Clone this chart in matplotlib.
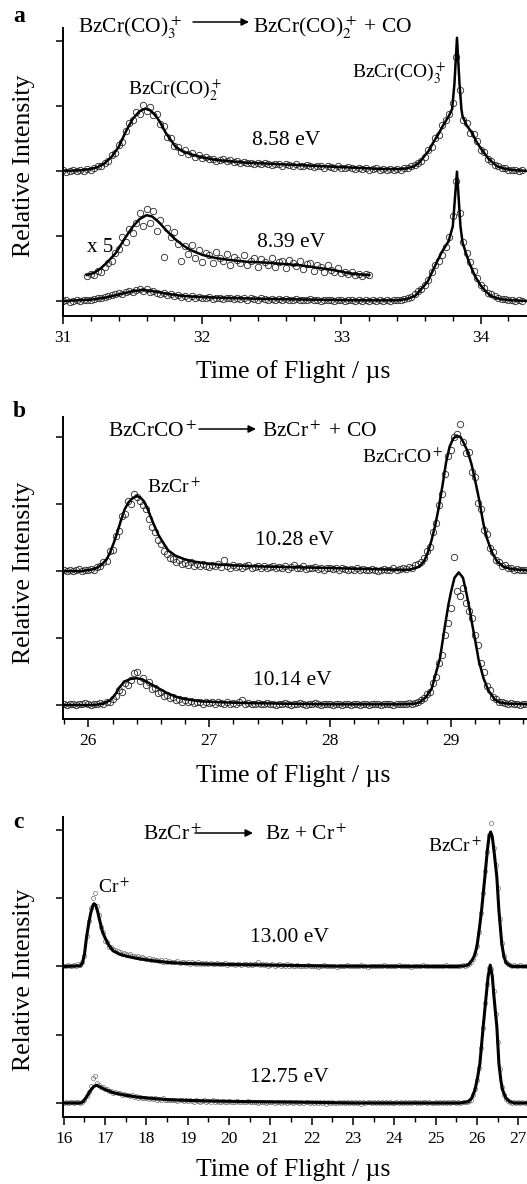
import numpy as np
import matplotlib
matplotlib.use('Agg')
import matplotlib.pyplot as plt
from matplotlib.ticker import MultipleLocator

plt.rcParams['font.family'] = ['Liberation Serif', 'DejaVu Serif']
plt.rcParams['mathtext.fontset'] = 'stix'

# ---------------- panel a: BzCr(CO)3+ -> BzCr(CO)2+ + CO ----------------
# scatter: channel grid 31.000 + 0.025*i, intensities relative to each baseline
a_top_y = [
    0.01, -0.01, 0.00, 0.01, 0.00, 0.02, 0.00, 0.03, 0.02, 0.05,
    0.07, 0.08, 0.13, 0.15, 0.25, 0.27, 0.40, 0.45, 0.62, 0.74,
    0.78, 0.90, 0.88, 1.02, 0.93, 0.99, 0.86, 0.88, 0.72, 0.69,
    0.53, 0.50, 0.38, 0.37, 0.29, 0.32, 0.26, 0.27, 0.22, 0.24,
    0.20, 0.22, 0.18, 0.19, 0.16, 0.17, 0.18, 0.15, 0.17, 0.14,
    0.15, 0.12, 0.14, 0.12, 0.13, 0.11, 0.13, 0.10, 0.12, 0.11,
    0.09, 0.11, 0.10, 0.08, 0.10, 0.09, 0.08, 0.10, 0.07, 0.08,
    0.09, 0.07, 0.06, 0.08, 0.07, 0.05, 0.07, 0.06, 0.05, 0.07,
    0.04, 0.05, 0.06, 0.04, 0.03, 0.05, 0.03, 0.04, 0.02, 0.03,
    0.04, 0.02, 0.03, 0.01, 0.03, 0.02, 0.03, 0.02, 0.05, 0.04,
    0.07, 0.09, 0.13, 0.15, 0.22, 0.33, 0.37, 0.50, 0.55, 0.70,
    0.79, 0.88, 1.05, 1.75, 1.25, 0.78, 0.74, 0.58, 0.57, 0.46,
    0.33, 0.29, 0.19, 0.15, 0.09, 0.08, 0.04, 0.04, 0.02, 0.01,
    0.02, 0.00, 0.01]
a_bot_y = [
    0.00, 0.01, -0.01, 0.00, 0.01, 0.00, 0.01, 0.02, 0.02, 0.03,
    0.04, 0.05, 0.06, 0.08, 0.09, 0.10, 0.12, 0.11, 0.14, 0.15,
    0.14, 0.17, 0.19, 0.16, 0.18, 0.14, 0.16, 0.13, 0.11, 0.13,
    0.09, 0.11, 0.07, 0.09, 0.06, 0.08, 0.05, 0.07, 0.04, 0.06,
    0.05, 0.04, 0.06, 0.03, 0.05, 0.04, 0.03, 0.05, 0.04, 0.03,
    0.05, 0.03, 0.04, 0.02, 0.04, 0.03, 0.02, 0.04, 0.03, 0.02,
    0.03, 0.02, 0.03, 0.01, 0.03, 0.02, 0.01, 0.03, 0.02, 0.01,
    0.02, 0.03, 0.01, 0.02, 0.00, 0.02, 0.01, 0.02, 0.00, 0.01,
    0.02, 0.00, 0.01, 0.02, 0.00, 0.01, 0.00, 0.01, 0.00, 0.01,
    0.00, 0.01, 0.00, 0.01, 0.00, 0.01, 0.02, 0.01, 0.03, 0.04,
    0.06, 0.10, 0.15, 0.19, 0.25, 0.32, 0.44, 0.55, 0.62, 0.70,
    0.83, 0.98, 1.30, 1.85, 1.35, 0.90, 0.74, 0.60, 0.46, 0.35,
    0.25, 0.20, 0.13, 0.10, 0.07, 0.05, 0.03, 0.03, 0.01, 0.02,
    0.00, 0.01, 0.00]
# x5 magnified trace, grid 31.175 + 0.025*i, absolute units
a_x5_y = [
    0.39, 0.41, 0.40, 0.46, 0.44, 0.52, 0.58, 0.62, 0.74, 0.80,
    0.98, 0.90, 1.10, 1.05, 1.20, 1.36, 1.15, 1.42, 1.20, 1.38,
    1.08, 1.25, 0.68, 1.12, 0.98, 1.06, 0.88, 0.62, 0.84, 0.72,
    0.86, 0.66, 0.78, 0.60, 0.74, 0.70, 0.58, 0.75, 0.66, 0.61,
    0.72, 0.56, 0.68, 0.63, 0.58, 0.70, 0.55, 0.62, 0.66, 0.52,
    0.64, 0.60, 0.56, 0.66, 0.53, 0.60, 0.62, 0.50, 0.63, 0.58,
    0.54, 0.61, 0.49, 0.57, 0.59, 0.46, 0.55, 0.52, 0.45, 0.56,
    0.47, 0.44, 0.50, 0.43, 0.45, 0.41, 0.44, 0.40, 0.42, 0.39,
    0.41, 0.40]

# fit curves (knots)
a_top_fx = [31.00, 31.12, 31.20, 31.25, 31.30, 31.35, 31.40, 31.45, 31.50, 31.55,
            31.59, 31.63, 31.67, 31.70, 31.74, 31.78, 31.81, 31.86, 31.93, 32.00,
            32.10, 32.20, 32.30, 32.50, 32.70, 32.90, 33.10, 33.30, 33.42, 33.47,
            33.52, 33.56, 33.60, 33.63, 33.66, 33.70, 33.73, 33.77, 33.795, 33.812,
            33.83, 33.848, 33.862, 33.87, 33.90, 33.94, 33.97, 34.01, 34.06, 34.12,
            34.18, 34.25, 34.35]
a_top_fy = [0.00, 0.01, 0.03, 0.06, 0.12, 0.22, 0.37, 0.60, 0.80, 0.92,
            0.96, 0.93, 0.84, 0.74, 0.58, 0.46, 0.37, 0.30, 0.25, 0.21,
            0.17, 0.15, 0.13, 0.11, 0.09, 0.07, 0.05, 0.03, 0.03, 0.04,
            0.07, 0.13, 0.24, 0.32, 0.44, 0.58, 0.70, 0.84, 0.95, 1.35,
            2.05, 1.35, 0.95, 0.84, 0.70, 0.58, 0.45, 0.32, 0.18, 0.07,
            0.03, 0.01, 0.00]
a_bot_fx = [31.00, 31.20, 31.30, 31.40, 31.50, 31.57, 31.65, 31.75, 31.85, 32.00,
            32.20, 32.50, 32.80, 33.10, 33.40, 33.47, 33.53, 33.58, 33.62, 33.67,
            33.72, 33.77, 33.80, 33.83, 33.855, 33.87, 33.90, 33.92, 33.96, 34.00,
            34.04, 34.08, 34.14, 34.22, 34.35]
a_bot_fy = [0.00, 0.02, 0.05, 0.10, 0.15, 0.17, 0.15, 0.11, 0.08, 0.06,
            0.045, 0.03, 0.02, 0.01, 0.01, 0.03, 0.08, 0.20, 0.30, 0.53,
            0.75, 0.92, 1.15, 1.99, 1.15, 0.90, 0.70, 0.58, 0.38, 0.24,
            0.14, 0.07, 0.03, 0.01, 0.00]
a_x5_fx = [31.17, 31.22, 31.27, 31.32, 31.38, 31.44, 31.50, 31.55, 31.60, 31.64,
           31.69, 31.74, 31.80, 31.86, 31.91, 32.00, 32.10, 32.20, 32.34, 32.46,
           32.58, 32.70, 32.80, 32.93, 33.05, 33.12, 33.20]
a_x5_fy = [0.40, 0.43, 0.50, 0.60, 0.74, 0.95, 1.14, 1.26, 1.32, 1.30,
           1.21, 1.09, 0.96, 0.86, 0.79, 0.71, 0.66, 0.63, 0.60, 0.59,
           0.57, 0.55, 0.52, 0.48, 0.43, 0.41, 0.40]

# ---------------- panel b: BzCrCO+ -> BzCr+ + CO ----------------
# scatter grid 25.800 + 0.025*i
b_top_y = [
    0.01, 0.00, 0.02, 0.00, 0.01, 0.03, 0.00, 0.02, 0.01, 0.03,
    0.02, 0.06, 0.07, 0.13, 0.15, 0.30, 0.32, 0.52, 0.60, 0.82,
    0.85, 1.04, 1.00, 1.15, 1.10, 1.05, 0.98, 0.92, 0.78, 0.66,
    0.58, 0.46, 0.40, 0.30, 0.26, 0.19, 0.18, 0.14, 0.16, 0.11,
    0.12, 0.09, 0.13, 0.08, 0.10, 0.07, 0.10, 0.08, 0.06, 0.09,
    0.07, 0.10, 0.06, 0.16, 0.08, 0.05, 0.09, 0.06, 0.08, 0.05,
    0.07, 0.09, 0.04, 0.06, 0.08, 0.05, 0.07, 0.04, 0.06, 0.08,
    0.04, 0.06, 0.05, 0.07, 0.03, 0.06, 0.09, 0.04, 0.05, 0.07,
    0.03, 0.05, 0.04, 0.06, 0.03, 0.05, 0.02, 0.04, 0.05, 0.03,
    0.04, 0.02, 0.04, 0.03, 0.01, 0.03, 0.02, 0.04, 0.01, 0.03,
    0.02, 0.01, 0.03, 0.02, 0.00, 0.02, 0.03, 0.01, 0.02, 0.04,
    0.02, 0.03, 0.05, 0.03, 0.06, 0.05, 0.09, 0.11, 0.13, 0.20,
    0.30, 0.36, 0.58, 0.72, 0.98, 1.15, 1.45, 1.72, 1.80, 2.00,
    2.04, 2.20, 1.92, 1.76, 1.78, 1.48, 1.40, 1.02, 0.92, 0.62,
    0.56, 0.34, 0.28, 0.16, 0.13, 0.08, 0.09, 0.04, 0.05, 0.02,
    0.03, 0.01, 0.02, 0.01]
b_bot_y = [
    0.01, 0.00, 0.02, 0.01, 0.00, 0.02, 0.01, 0.03, 0.01, 0.00,
    0.02, 0.01, 0.03, 0.02, 0.05, 0.04, 0.09, 0.14, 0.22, 0.20,
    0.33, 0.30, 0.37, 0.48, 0.50, 0.36, 0.40, 0.30, 0.34, 0.24,
    0.26, 0.18, 0.20, 0.13, 0.15, 0.10, 0.12, 0.07, 0.09, 0.05,
    0.07, 0.04, 0.06, 0.03, 0.05, 0.04, 0.02, 0.05, 0.03, 0.04,
    0.02, 0.05, 0.03, 0.02, 0.04, 0.01, 0.03, 0.02, 0.04, 0.07,
    0.02, 0.03, 0.01, 0.02, 0.03, 0.01, 0.02, 0.03, 0.01, 0.02,
    0.00, 0.02, 0.01, 0.03, 0.01, 0.00, 0.02, 0.01, 0.03, 0.01,
    0.00, 0.02, 0.01, 0.03, 0.01, 0.00, 0.02, 0.01, 0.02, 0.00,
    0.01, 0.02, 0.00, 0.01, 0.02, 0.00, 0.01, 0.02, 0.00, 0.01,
    0.02, 0.00, 0.01, 0.01, 0.02, 0.00, 0.01, 0.02, 0.01, 0.00,
    0.02, 0.01, 0.02, 0.01, 0.03, 0.02, 0.03, 0.05, 0.07, 0.10,
    0.17, 0.20, 0.33, 0.42, 0.62, 0.75, 1.05, 1.22, 1.45, 2.21,
    1.70, 1.62, 1.74, 1.52, 1.40, 1.30, 1.05, 0.90, 0.62, 0.50,
    0.28, 0.22, 0.12, 0.09, 0.05, 0.04, 0.03, 0.02, 0.03, 0.01,
    0.02, 0.00, 0.01, 0.02]

b_top_fx = [25.80, 25.95, 26.05, 26.10, 26.15, 26.18, 26.21, 26.24, 26.27, 26.30,
            26.33, 26.36, 26.40, 26.43, 26.46, 26.49, 26.52, 26.55, 26.58, 26.62,
            26.66, 26.72, 26.79, 26.86, 26.93, 27.05, 27.20, 27.40, 27.75, 28.00,
            28.30, 28.55, 28.65, 28.70, 28.74, 28.78, 28.81, 28.84, 28.87, 28.90,
            28.93, 28.96, 28.99, 29.02, 29.05, 29.08, 29.11, 29.14, 29.17, 29.20,
            29.23, 29.27, 29.30, 29.34, 29.38, 29.43, 29.50, 29.56, 29.65]
b_top_fy = [0.00, 0.00, 0.03, 0.08, 0.17, 0.28, 0.42, 0.58, 0.76, 0.92,
            1.02, 1.08, 1.12, 1.10, 1.04, 0.93, 0.79, 0.66, 0.54, 0.42,
            0.31, 0.23, 0.18, 0.145, 0.125, 0.10, 0.085, 0.07, 0.055, 0.045,
            0.03, 0.02, 0.02, 0.04, 0.07, 0.15, 0.28, 0.46, 0.68, 0.95,
            1.27, 1.62, 1.86, 1.98, 2.02, 2.00, 1.90, 1.78, 1.60, 1.36,
            1.10, 0.70, 0.48, 0.28, 0.15, 0.07, 0.03, 0.02, 0.01]
b_bot_fx = [25.80, 26.05, 26.12, 26.18, 26.22, 26.26, 26.30, 26.35, 26.40, 26.45,
            26.50, 26.57, 26.65, 26.73, 26.83, 26.93, 27.10, 27.30, 27.60, 28.00,
            28.60, 28.70, 28.74, 28.79, 28.84, 28.88, 28.91, 28.95, 28.98, 29.00,
            29.03, 29.065, 29.10, 29.13, 29.16, 29.18, 29.21, 29.23, 29.27, 29.31,
            29.36, 29.40, 29.47, 29.65]
b_bot_fy = [0.00, 0.00, 0.02, 0.07, 0.15, 0.27, 0.35, 0.39, 0.40, 0.38,
            0.33, 0.26, 0.18, 0.12, 0.08, 0.055, 0.04, 0.03, 0.02, 0.01,
            0.01, 0.02, 0.04, 0.11, 0.24, 0.50, 0.70, 1.17, 1.50, 1.68,
            1.90, 1.98, 1.90, 1.66, 1.38, 1.17, 0.88, 0.67, 0.40, 0.22,
            0.09, 0.04, 0.02, 0.01]

# ---------------- panel c: BzCr+ -> Bz + Cr+ ----------------
# scatter grid 16.00 + 0.05*i
c_top_y = [
    0.01, 0.00, 0.02, 0.01, 0.00, 0.02, 0.01, 0.03, 0.02, 0.06,
    0.16, 0.45, 0.66, 0.85, 1.00, 1.08, 0.88, 0.76, 0.58, 0.50,
    0.38, 0.36, 0.29, 0.28, 0.25, 0.24, 0.22, 0.21, 0.19, 0.20,
    0.18, 0.17, 0.18, 0.15, 0.16, 0.14, 0.15, 0.13, 0.14, 0.12,
    0.11, 0.13, 0.10, 0.11, 0.09, 0.10, 0.08, 0.09, 0.07, 0.09,
    0.07, 0.08, 0.06, 0.07, 0.06, 0.08, 0.05, 0.06, 0.07, 0.05,
    0.06, 0.04, 0.06, 0.05, 0.04, 0.06, 0.04, 0.05, 0.03, 0.05,
    0.04, 0.05, 0.03, 0.04, 0.05, 0.03, 0.04, 0.03, 0.05, 0.02,
    0.04, 0.03, 0.04, 0.02, 0.03, 0.04, 0.02, 0.03, 0.04, 0.02,
    0.03, 0.02, 0.04, 0.03, 0.06, 0.02, 0.03, 0.02, 0.03, 0.01,
    0.02, 0.03, 0.01, 0.02, 0.03, 0.01, 0.02, 0.01, 0.03, 0.01,
    0.02, 0.00, 0.01, 0.02, 0.00, 0.01, 0.00, 0.01, 0.02, 0.00,
    0.01, 0.00, 0.01, -0.01, 0.01, 0.00, 0.02, 0.00, 0.01, 0.00,
    0.00, 0.01, -0.01, 0.01, 0.00, 0.01, 0.00, 0.02, 0.00, 0.01,
    0.01, 0.00, 0.01, 0.00, 0.02, 0.00, 0.01, -0.01, 0.01, 0.00,
    0.00, 0.01, 0.00, 0.01, 0.00, 0.02, 0.01, 0.00, 0.01, 0.00,
    0.01, 0.00, 0.02, 0.00, 0.01, 0.00, 0.01, 0.00, -0.01, 0.01,
    0.00, 0.01, 0.00, 0.01, 0.02, 0.00, 0.01, 0.00, 0.01, 0.00,
    0.01, 0.00, 0.01, 0.00, 0.01, 0.02, 0.00, 0.01, 0.00, 0.01,
    0.01, 0.00, 0.01, 0.02, 0.01, 0.02, 0.04, 0.06, 0.11, 0.19,
    0.30, 0.50, 0.78, 1.08, 1.40, 1.68, 1.92, 2.10, 1.74, 1.48,
    1.15, 0.70, 0.35, 0.16, 0.07, 0.03, 0.02, 0.01, 0.02, 0.00,
    0.01, 0.02, 0.00, 0.01, 0.01]
c_bot_y = [
    0.00, 0.01, 0.00, 0.02, 0.01, 0.00, 0.01, 0.02, 0.00, 0.02,
    0.05, 0.10, 0.16, 0.25, 0.36, 0.40, 0.30, 0.27, 0.24, 0.23,
    0.20, 0.21, 0.17, 0.18, 0.15, 0.16, 0.14, 0.15, 0.12, 0.13,
    0.11, 0.12, 0.10, 0.11, 0.09, 0.10, 0.08, 0.09, 0.08, 0.07,
    0.08, 0.06, 0.07, 0.06, 0.07, 0.05, 0.06, 0.05, 0.08, 0.05,
    0.05, 0.04, 0.05, 0.04, 0.05, 0.03, 0.04, 0.05, 0.03, 0.04,
    0.03, 0.04, 0.03, 0.02, 0.04, 0.03, 0.02, 0.03, 0.04, 0.02,
    0.03, 0.02, 0.04, 0.02, 0.03, 0.01, 0.02, 0.03, 0.02, 0.01,
    0.03, 0.02, 0.01, 0.02, 0.03, 0.01, 0.02, 0.01, 0.02, 0.03,
    0.01, 0.02, 0.01, 0.02, 0.00, 0.02, 0.01, 0.02, 0.00, 0.01,
    0.02, 0.01, 0.00, 0.02, 0.01, 0.00, 0.01, 0.02, 0.00, 0.01,
    0.01, 0.00, 0.02, 0.01, 0.00, 0.01, 0.00, 0.01, 0.02, 0.00,
    0.01, 0.00, 0.01, 0.00, 0.02, 0.00, 0.01, -0.01, 0.01, 0.00,
    0.01, 0.00, 0.00, 0.01, 0.00, 0.02, 0.00, 0.01, 0.00, 0.01,
    0.00, 0.01, 0.00, 0.01, -0.01, 0.01, 0.00, 0.01, 0.02, 0.00,
    0.01, 0.00, 0.01, 0.00, 0.01, 0.00, 0.02, 0.00, 0.01, 0.00,
    0.00, 0.01, 0.00, 0.02, 0.00, 0.01, 0.00, 0.01, 0.00, 0.01,
    0.01, 0.00, 0.01, 0.00, 0.01, 0.02, 0.00, 0.01, 0.00, 0.00,
    0.01, 0.00, 0.02, 0.00, 0.01, 0.00, 0.01, 0.00, 0.01, 0.01,
    0.00, 0.01, 0.00, 0.01, 0.02, 0.01, 0.03, 0.05, 0.11, 0.20,
    0.33, 0.52, 0.80, 1.10, 1.47, 1.75, 1.98, 1.96, 1.64, 1.30,
    0.90, 0.50, 0.24, 0.12, 0.06, 0.03, 0.02, 0.00, 0.01, 0.00,
    0.01, 0.00, 0.01, 0.00, 0.01]

c_top_fx = [16.00, 16.40, 16.45, 16.50, 16.55, 16.60, 16.65, 16.70, 16.73, 16.77,
            16.82, 16.87, 16.93, 16.99, 17.08, 17.19, 17.35, 17.52, 17.80, 18.08,
            18.50, 18.90, 19.50, 20.50, 21.60, 22.50, 25.50, 25.70, 25.80, 25.90,
            25.95, 26.00, 26.05, 26.11, 26.19, 26.25, 26.29, 26.33, 26.37, 26.41,
            26.48, 26.53, 26.60, 26.65, 26.70, 26.78, 26.85, 27.25]
c_top_fy = [0.00, 0.01, 0.05, 0.18, 0.43, 0.62, 0.78, 0.89, 0.92, 0.90,
            0.80, 0.67, 0.52, 0.43, 0.32, 0.23, 0.18, 0.15, 0.115, 0.09,
            0.06, 0.045, 0.035, 0.025, 0.015, 0.005, 0.00, 0.01, 0.03, 0.11,
            0.18, 0.30, 0.52, 0.82, 1.31, 1.70, 1.90, 1.97, 1.90, 1.70,
            1.31, 0.82, 0.33, 0.15, 0.06, 0.02, 0.00, 0.00]
c_bot_fx = [16.00, 16.40, 16.47, 16.55, 16.63, 16.72, 16.79, 16.86, 16.95, 17.03,
            17.20, 17.44, 17.75, 18.08, 18.50, 18.89, 19.50, 20.50, 22.00, 23.00,
            25.60, 25.79, 25.87, 25.95, 26.01, 26.07, 26.15, 26.22, 26.27, 26.32,
            26.37, 26.41, 26.48, 26.53, 26.58, 26.62, 26.70, 26.80, 26.90, 27.25]
c_bot_fy = [0.00, 0.00, 0.02, 0.09, 0.17, 0.24, 0.26, 0.24, 0.21, 0.19,
            0.15, 0.12, 0.09, 0.07, 0.05, 0.04, 0.03, 0.02, 0.01, 0.00,
            0.00, 0.02, 0.07, 0.19, 0.36, 0.58, 1.12, 1.56, 1.86, 2.02,
            1.86, 1.56, 1.12, 0.58, 0.32, 0.19, 0.07, 0.02, 0.00, 0.00]

# --------------------------------------------------------------------
W, H = 527, 1184
fig = plt.figure(figsize=(W / 100, H / 100), dpi=100)


def px(x, y):
    return x / W, 1 - y / H


def make_axes(top, bottom, xlim, ylim, minor):
    ax = fig.add_axes([63 / W, 1 - bottom / H, (W - 63) / W, (bottom - top) / H])
    ax.set_xlim(*xlim)
    ax.set_ylim(*ylim)
    for s in ['top', 'right']:
        ax.spines[s].set_visible(False)
    for s in ['left', 'bottom']:
        ax.spines[s].set_linewidth(1.4)
    ax.xaxis.set_major_locator(MultipleLocator(1))
    ax.xaxis.set_minor_locator(MultipleLocator(minor))
    ax.set_yticks([0, 1, 2, 3, 4])
    ax.tick_params(axis='x', which='major', length=6, width=1.1, labelsize=12.5, pad=4)
    ax.tick_params(axis='x', which='minor', length=3.5, width=1.0)
    ax.tick_params(axis='y', which='major', length=5, width=1.1, labelleft=False)
    return ax


def scatter(ax, x0, step, ys, offset, small=False):
    xs = x0 + step * np.arange(len(ys))
    if small:
        ax.plot(xs, np.array(ys) + offset, 'o', ms=3.0, mfc='none', mec='0.45', mew=0.5)
    else:
        ax.plot(xs, np.array(ys) + offset, 'o', ms=4.6, mfc='none', mec='0.15', mew=0.6)


def fit(ax, fx, fy, offset, lw=1.8):
    ax.plot(fx, np.array(fy) + offset, '-', color='k', lw=lw)


def label(x, y, s, size=15.5, **kw):
    fig.text(*px(x, y), s, fontsize=size, ha='left', va='baseline', **kw)


def arrow(x1, x2, y):
    fig.add_artist(matplotlib.patches.FancyArrowPatch(
        px(x1, y), px(x2, y), transform=fig.transFigure, arrowstyle='-|>',
        mutation_scale=11, lw=1.1, color='k', shrinkA=0, shrinkB=0))


# panel a
ax_a = make_axes(28, 316, (31.0, 34.333), (-0.231, 4.2), 0.2)
scatter(ax_a, 31.0, 0.025, a_top_y, 2.0)
scatter(ax_a, 31.0, 0.025, a_bot_y, 0.0)
scatter(ax_a, 31.175, 0.025, a_x5_y, 0.0)
fit(ax_a, a_top_fx, a_top_fy, 2.0)
fit(ax_a, a_bot_fx, a_bot_fy, 0.0)
fit(ax_a, a_x5_fx, a_x5_fy, 0.0)

# panel b
ax_b = make_axes(417, 719, (25.79, 29.63), (-0.209, 4.30), 0.2)
scatter(ax_b, 25.8, 0.025, b_top_y, 2.0)
scatter(ax_b, 25.8, 0.025, b_bot_y, 0.0)
fit(ax_b, b_top_fx, b_top_fy, 2.0)
fit(ax_b, b_bot_fx, b_bot_fy, 0.0)

# panel c
ax_c = make_axes(817, 1117, (15.98, 27.21), (-0.205, 4.19), 0.5)
scatter(ax_c, 16.0, 0.05, c_top_y, 2.0, small=True)
scatter(ax_c, 16.0, 0.05, c_bot_y, 0.0, small=True)
fit(ax_c, c_top_fx, c_top_fy, 2.0, lw=2.2)
fit(ax_c, c_bot_fx, c_bot_fy, 0.0, lw=2.2)

# axis labels
for yc in [166, 573, 980]:
    fig.text(*px(24, yc), 'Relative Intensity', rotation=90, fontsize=18.5,
             ha='center', va='center')
for yc in [372, 776, 1170]:
    fig.text(*px(293, yc), 'Time of Flight / µs', fontsize=18.5,
             ha='center', va='center')

# panel letters
for y, s in [(22, 'a'), (417, 'b'), (828, 'c')]:
    fig.text(*px(13, y), s, fontsize=17, fontweight='bold', ha='left', va='baseline')

# panel a texts
label(78, 33, r'BzCr(CO)$_3^+$')
arrow(193, 249, 22)
label(253, 33, r'BzCr(CO)$_2^+$ + CO')
label(128, 95, r'BzCr(CO)$_2^+$', size=14)
label(352, 78, r'BzCr(CO)$_3^+$', size=14)
label(252, 145, '8.58 eV')
label(87, 252, 'x 5', size=15)
label(257, 247, '8.39 eV')

# panel b texts
label(108, 437, r'BzCrCO$^+$')
arrow(199, 256, 429)
label(262, 437, r'BzCr$^+$ + CO')
label(362, 463, r'BzCrCO$^+$', size=14)
label(147, 493, r'BzCr$^+$', size=14)
label(255, 545, '10.28 eV')
label(253, 685, '10.14 eV')

# panel c texts
label(143, 840, r'BzCr$^+$')
arrow(195, 253, 833)
label(265, 840, r'Bz + Cr$^+$')
label(428, 852, r'BzCr$^+$', size=14)
label(98, 893, r'Cr$^+$', size=14)
label(250, 942, '13.00 eV')
label(250, 1082, '12.75 eV')

fig.savefig('out.png', dpi=100)
